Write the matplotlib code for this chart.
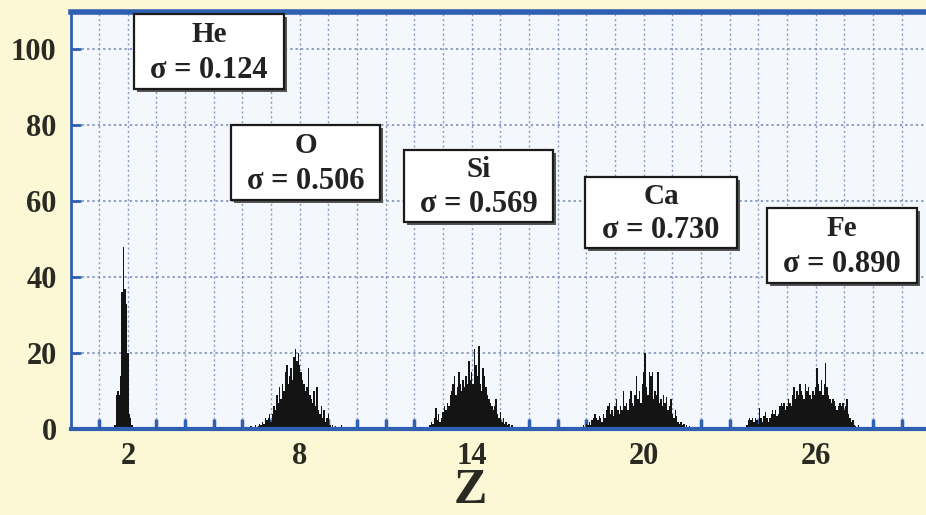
import numpy as np
import matplotlib
matplotlib.use('Agg')
import matplotlib.pyplot as plt
from matplotlib.patches import Rectangle

# charge histogram, bin width 0.05 in Z, counts per bin starting at *_start
bin_width = 0.05

he_start = 1.50
he_counts = [0.5, 1, 9, 10, 9, 14, 36, 48, 37, 33, 20, 4, 3, 1, 0.5]

o_start = 6.20
o_counts = [0.5, 0, 0.8, 0, 0.5, 1, 0, 0.8, 1.5,
            1, 2, 1.5, 3, 2.5, 3, 4, 2,
            4, 6, 5, 9, 7, 11, 8, 12, 10, 15,
            17, 12, 14, 16, 13, 19, 21, 18, 20, 17,
            15, 13, 12, 10, 11, 16, 9, 8, 7, 10,
            6, 11, 5, 4, 6, 3, 5, 2, 3, 4,
            1, 0.5, 1, 0, 0.8, 0, 0.5, 0, 1, 0]

si_start = 12.40
si_counts = [0.3, 0.5, 0, 1, 2, 1.5, 3, 5.5, 2.5, 4,
             2, 3, 4.5, 6, 5, 7, 6, 9, 10, 12,
             14, 9, 11, 15, 12, 10, 13, 11, 14, 12,
             18, 13, 15, 12, 21, 17, 14, 22, 12, 10,
             16, 14, 11, 9, 8, 7, 6, 5, 6, 8,
             4, 3, 4.5, 2, 3, 1.5, 2, 1, 1.5, 0.5,
             1, 0.3, 0.5, 0, 0.3]

ca_start = 17.80
ca_counts = [0.5, 0, 1, 0.5, 1.5, 1, 2, 1, 2.5, 3,
             4, 3, 2.5, 3.5, 3, 2, 4, 3, 5, 6,
             7, 4, 5, 3.5, 6, 8, 5, 4, 6, 5,
             10, 6, 7, 5, 8, 10, 7, 6, 9, 14,
             8, 10, 7, 12, 15, 20, 11, 9, 15, 14,
             15, 8, 10, 9, 15, 7, 8, 6, 9, 7,
             8.5, 5, 6, 8, 4, 3, 5, 3.5, 2, 1.5,
             2, 1, 1.5, 0.5, 1, 0.5, 0.8, 0, 0.5, 0, 0.3]

fe_start = 23.40
fe_counts = [0.3, 0, 0.5, 0.5, 1, 2.5, 3, 2.5, 3, 2,
             3, 2.5, 1.5, 5.5, 3, 2, 3.5, 4.5, 3, 2,
             3, 4, 5, 4, 5, 3.5, 4, 6, 7, 6,
             7, 5, 6, 8, 7, 6, 9, 11, 8, 10,
             9, 12, 10, 9, 8, 12, 10, 11, 9, 8,
             10, 9, 11, 16, 12, 10, 13, 9, 12, 17.5,
             11, 9, 8, 7, 8, 7.5, 6, 5, 6, 7,
             6, 7, 5, 6, 8, 4, 3, 2, 2.5, 1.2,
             0.8, 0.5, 1, 0, 0.3]

elements = ['He', 'O', 'Si', 'Ca', 'Fe']
sigmas = [0.124, 0.506, 0.569, 0.730, 0.890]
x_ticks = [2, 8, 14, 20, 26]
y_ticks = [0, 20, 40, 60, 80, 100]

peaks = [(he_start, he_counts), (o_start, o_counts), (si_start, si_counts),
         (ca_start, ca_counts), (fe_start, fe_counts)]

# label boxes: left, top, width, height in pixels
box_px = [(134, 14, 150, 75), (231, 125, 149, 75), (404, 150, 149, 72),
          (585, 177, 152, 71), (767, 208, 150, 75)]

W, H = 926, 515
serif = ['Liberation Serif', 'DejaVu Serif']
blue = '#2f5fb3'
ink = '#2a2a22'

fig = plt.figure(figsize=(W / 100., H / 100.), dpi=100)
fig.patch.set_facecolor('#fcf8d6')
ax = fig.add_axes([70.5 / W, (H - 429.3) / H, (W - 70.5) / W, 417.3 / H])
ax.set_facecolor('#f4f7fb')

for start, counts in peaks:
    z = start + bin_width * np.arange(len(counts))
    ax.bar(z, counts, width=bin_width, color='#141414', linewidth=0,
           antialiased=False, zorder=1)

ax.set_xlim(0, 29.85)
ax.set_ylim(0, 109.8)

ax.set_xticks(x_ticks)
ax.set_xticks(range(1, 30), minor=True)
ax.set_yticks(y_ticks)
ax.set_xticklabels([str(t) for t in x_ticks])
ax.set_yticklabels([str(t) for t in y_ticks])

ax.grid(True, which='both', axis='x', color='#8a9cc0', linestyle=(0, (1.5, 2)), linewidth=1.0)
ax.grid(True, which='major', axis='y', color='#6f84b2', linestyle=(0, (1.5, 2)), linewidth=1.1)
ax.set_axisbelow(True)

ax.tick_params(axis='x', which='both', direction='in', length=7, width=2.5, color=blue, pad=9)
ax.tick_params(axis='y', which='major', direction='in', length=7, width=2, color=blue, pad=10)
for lbl in ax.get_xticklabels() + ax.get_yticklabels():
    lbl.set_fontfamily(serif)
    lbl.set_fontweight('bold')
    lbl.set_fontsize(22)
    lbl.set_color(ink)

for side in ['left', 'bottom', 'top']:
    ax.spines[side].set_color(blue)
ax.spines['left'].set_linewidth(2)
ax.spines['bottom'].set_linewidth(3)
ax.spines['top'].set_linewidth(4)
ax.spines['right'].set_visible(False)

fig.text(470. / W, 1 - 514. / H, 'Z', ha='center', va='bottom', fontsize=36,
         fontweight='bold', fontfamily=serif, color=ink)

# labelled boxes with element name and resolution
for name, sig, (bx, by, bw, bh) in zip(elements, sigmas, box_px):
    fx, fy = bx / W, 1 - (by + bh) / H
    fw, fh = bw / W, bh / H
    fig.patches.append(Rectangle((fx + 3. / W, fy - 3. / H), fw, fh, transform=fig.transFigure,
                                 facecolor='#555555', edgecolor='none', zorder=5))
    fig.patches.append(Rectangle((fx, fy), fw, fh, transform=fig.transFigure,
                                 facecolor='white', edgecolor='#1a1a1a', linewidth=1.6, zorder=6))
    cx = fx + fw / 2
    fig.text(cx, 1 - (by + 0.27 * bh) / H, name, ha='center', va='center', fontsize=21,
             fontweight='bold', fontfamily=serif, color='#222', zorder=7)
    fig.text(cx, 1 - (by + 0.75 * bh) / H, '\u03c3 = %.3f' % sig, ha='center', va='center',
             fontsize=22, fontweight='bold', fontfamily=serif, color='#222', zorder=7)

fig.savefig('out.png', dpi=100, facecolor=fig.get_facecolor())
